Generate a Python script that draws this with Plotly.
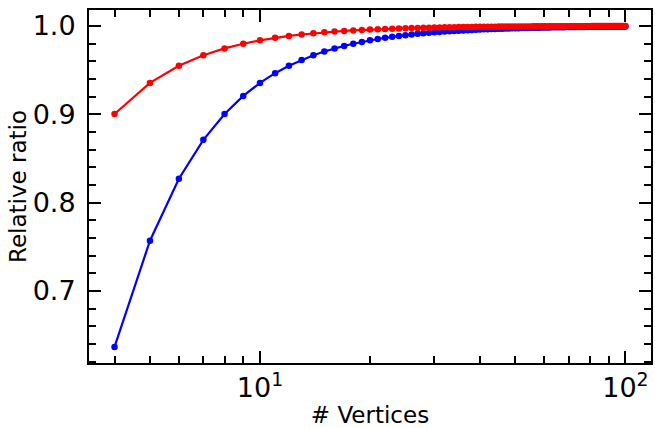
import plotly.graph_objects as go

vertices = list(range(4, 101))

area_ratio = [
    0.63662, 0.75683, 0.82699, 0.87103, 0.90032, 0.92073, 0.93549, 0.94650, 0.95493, 0.96152,
    0.96677, 0.97101, 0.97450, 0.97739, 0.97982, 0.98187, 0.98363, 0.98515, 0.98646, 0.98761,
    0.98862, 0.98951, 0.99030, 0.99100, 0.99163, 0.99219, 0.99270, 0.99317, 0.99359, 0.99397,
    0.99432, 0.99464, 0.99493, 0.99520, 0.99545, 0.99568, 0.99589, 0.99609, 0.99627, 0.99644,
    0.99660, 0.99675, 0.99689, 0.99702, 0.99715, 0.99726, 0.99737, 0.99747, 0.99757, 0.99766,
    0.99774, 0.99783, 0.99790, 0.99798, 0.99805, 0.99811, 0.99817, 0.99823, 0.99829, 0.99834,
    0.99839, 0.99844, 0.99849, 0.99853, 0.99858, 0.99862, 0.99866, 0.99869, 0.99873, 0.99877,
    0.99880, 0.99883, 0.99886, 0.99889, 0.99892, 0.99895, 0.99897, 0.99900, 0.99902, 0.99904,
    0.99907, 0.99909, 0.99911, 0.99913, 0.99915, 0.99917, 0.99919, 0.99921, 0.99922, 0.99924,
    0.99926, 0.99927, 0.99929, 0.99930, 0.99931, 0.99933, 0.99934,
]

perimeter_ratio = [
    0.90032, 0.93549, 0.95493, 0.96677, 0.97450, 0.97982, 0.98363, 0.98646, 0.98862, 0.99030,
    0.99163, 0.99270, 0.99359, 0.99432, 0.99493, 0.99545, 0.99589, 0.99627, 0.99660, 0.99689,
    0.99715, 0.99737, 0.99757, 0.99774, 0.99790, 0.99805, 0.99817, 0.99829, 0.99839, 0.99849,
    0.99858, 0.99866, 0.99873, 0.99880, 0.99886, 0.99892, 0.99897, 0.99902, 0.99907, 0.99911,
    0.99915, 0.99919, 0.99922, 0.99926, 0.99929, 0.99931, 0.99934, 0.99937, 0.99939, 0.99941,
    0.99944, 0.99946, 0.99948, 0.99949, 0.99951, 0.99953, 0.99954, 0.99956, 0.99957, 0.99959,
    0.99960, 0.99961, 0.99962, 0.99963, 0.99964, 0.99965, 0.99966, 0.99967, 0.99968, 0.99969,
    0.99970, 0.99971, 0.99972, 0.99972, 0.99973, 0.99974, 0.99974, 0.99975, 0.99976, 0.99976,
    0.99977, 0.99977, 0.99978, 0.99978, 0.99979, 0.99979, 0.99980, 0.99980, 0.99981, 0.99981,
    0.99981, 0.99982, 0.99982, 0.99983, 0.99983, 0.99983, 0.99984,
]

x_major_ticks = [10, 100]
x_major_labels = ["10<sup>1</sup>", "10<sup>2</sup>"]
x_minor_ticks = [4, 5, 6, 7, 8, 9, 20, 30, 40, 50, 60, 70, 80, 90]
y_major_ticks = [0.7, 0.8, 0.9, 1.0]
y_major_labels = ["0.7", "0.8", "0.9", "1.0"]
y_minor_ticks = [0.62, 0.64, 0.66, 0.68, 0.72, 0.74, 0.76, 0.78, 0.82, 0.84, 0.86, 0.88,
                 0.92, 0.94, 0.96, 0.98]

FONT = "DejaVu Sans"

fig = go.Figure()
fig.add_trace(go.Scatter(x=vertices, y=area_ratio, mode="lines+markers",
                         line=dict(color="#0000ff", width=2.2),
                         marker=dict(color="#0000ff", size=6.5)))
fig.add_trace(go.Scatter(x=vertices, y=perimeter_ratio, mode="lines+markers",
                         line=dict(color="#ff0000", width=2.2),
                         marker=dict(color="#ff0000", size=6.5)))

fig.update_layout(
    width=655, height=428,
    margin=dict(l=89, r=2, t=10, b=64),
    paper_bgcolor="white", plot_bgcolor="white",
    showlegend=False,
    font=dict(family=FONT, color="black"),
)
fig.update_xaxes(
    type="log", range=[0.5322, 2.0699],
    tickmode="array", tickvals=x_major_ticks, ticktext=x_major_labels,
    ticks="inside", ticklen=12, tickwidth=1.5, tickcolor="black",
    showline=True, linewidth=2, linecolor="black", mirror="allticks",
    showgrid=False, zeroline=False,
    tickfont=dict(size=27, family=FONT),
    minor=dict(tickmode="array", tickvals=x_minor_ticks, ticks="inside",
               ticklen=7, tickwidth=1.5, tickcolor="black", showgrid=False),
    title=dict(text="# Vertices", font=dict(size=23, family=FONT), standoff=6),
)
fig.update_yaxes(
    range=[0.61846, 1.018],
    tickmode="array", tickvals=y_major_ticks, ticktext=y_major_labels,
    ticks="inside", ticklen=12, tickwidth=1.5, tickcolor="black",
    showline=True, linewidth=2, linecolor="black", mirror="allticks",
    showgrid=False, zeroline=False,
    tickfont=dict(size=27, family=FONT),
    ticklabelstandoff=6,
    minor=dict(tickmode="array", tickvals=y_minor_ticks, ticks="inside",
               ticklen=7, tickwidth=1.5, tickcolor="black", showgrid=False),
    title=dict(text="Relative ratio", font=dict(size=23, family=FONT), standoff=0),
)

fig.write_html("out.html")
